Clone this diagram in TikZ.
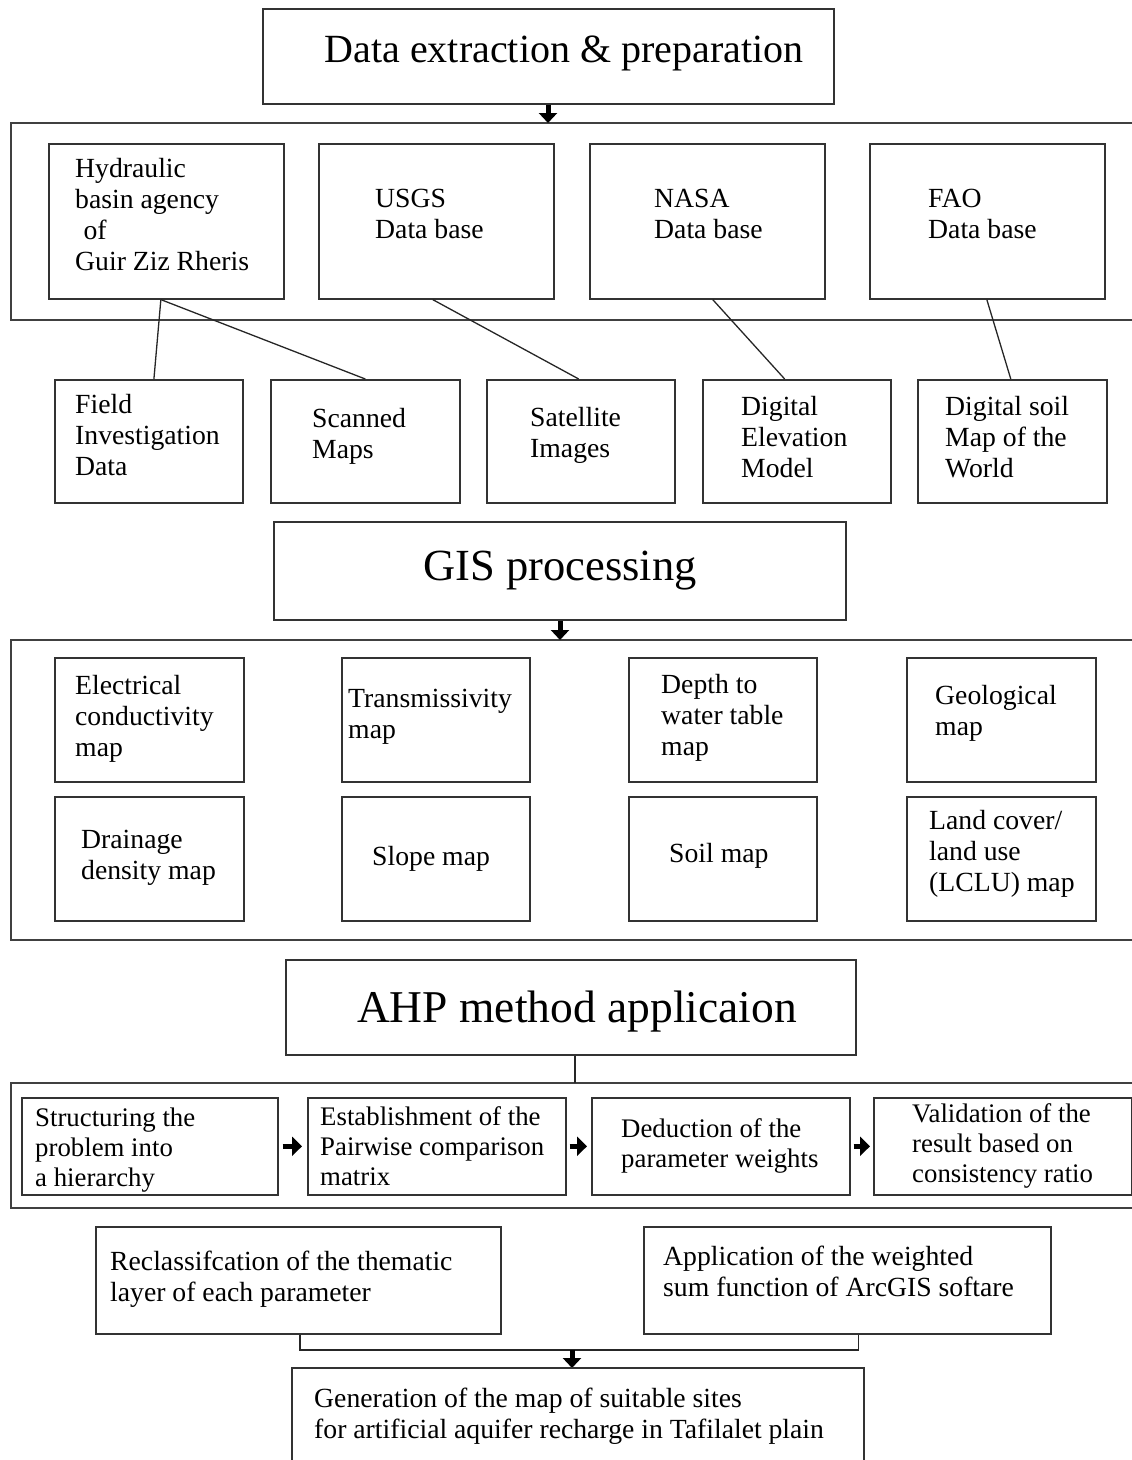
\documentclass[tikz,border=0pt]{standalone}
\usepackage{fontspec}
\setmainfont{Liberation Serif}
\usetikzlibrary{arrows.meta,calc}
\begin{document}
\begin{tikzpicture}[x=1pt,y=-1pt,
 box/.style={draw=black!80,line width=1.6pt,inner sep=0pt,anchor=north west},
 txt/.style={anchor=base west,align=left,inner sep=0pt,font=\fontsize{27.7}{31}\selectfont},
 ahptxt/.style={txt,font=\fontsize{26.8}{30}\selectfont},
 title/.style={anchor=base,inner sep=0pt},
 frame/.style={draw=black!75,line width=1.6pt},
 link/.style={draw=black!85,line width=1.3pt},
 bigarrow/.style={line width=5pt,-{Triangle[width=18pt,length=10pt]}},
]
\useasboundingbox (0,0) rectangle (1132,1460);

% ---------- Data extraction ----------
\node[box,minimum width=571pt,minimum height=95pt] (t1) at (262,8) {};
\node[title,font=\fontsize{40}{46}\selectfont] (t1text) at (564,62) {Data extraction \& preparation};
\coordinate (f1top) at (548,123);
\draw[frame] (1132,123) -- (11,123) -- (11,320) -- (1132,320);
\draw[bigarrow] (t1.south -| f1top) -- (f1top);

% sources
\node[box,minimum width=235pt,minimum height=155pt] (hyd) at (48,143) {};
\node[txt] (hydt) at (75,270) {Hydraulic\\basin agency\\\hspace{0.3em}of\\Guir Ziz Rheris};
\node[box,minimum width=235pt,minimum height=155pt] (usgs) at (318,143) {};
\node[txt] (usgst) at (375,238) {USGS\\Data base};
\node[box,minimum width=235pt,minimum height=155pt] (nasa) at (589,143) {};
\node[txt] (nasat) at (654,238) {NASA\\Data base};
\node[box,minimum width=235pt,minimum height=155pt] (fao) at (869,143) {};
\node[txt] (faot) at (928,238) {FAO\\Data base};

% data products
\node[box,minimum width=188pt,minimum height=123pt] (field) at (54,379) {};
\node[txt] (fieldt) at (75,475) {Field\\Investigation\\Data};
\node[box,minimum width=189pt,minimum height=123pt] (scan) at (270,379) {};
\node[txt] (scant) at (312,458) {Scanned\\Maps};
\node[box,minimum width=188pt,minimum height=123pt] (sat) at (486,379) {};
\node[txt] (satt) at (530,457) {Satellite\\Images};
\node[box,minimum width=188pt,minimum height=123pt] (dem) at (702,379) {};
\node[txt] (demt) at (741,477) {Digital\\Elevation\\Model};
\node[box,minimum width=189pt,minimum height=123pt] (soil) at (917,379) {};
\node[txt] (soilt) at (945,477) {Digital soil\\Map of the\\World};

\draw[link] ($(hyd.south west)!0.477!(hyd.south east)$) -- ($(field.north west)!0.527!(field.north east)$);
\draw[link] ($(hyd.south west)!0.477!(hyd.south east)$) -- (scan.north);
\draw[link] ($(usgs.south west)!0.485!(usgs.south east)$) -- ($(sat.north west)!0.489!(sat.north east)$);
\draw[link] ($(nasa.south west)!0.523!(nasa.south east)$) -- ($(dem.north west)!0.436!(dem.north east)$);
\draw[link] ($(fao.south west)!0.498!(fao.south east)$) -- ($(soil.north west)!0.492!(soil.north east)$);

% ---------- GIS processing ----------
\node[box,minimum width=572pt,minimum height=98pt] (t2) at (273,521) {};
\node[title,font=\fontsize{44.5}{50}\selectfont] (t2text) at (560,580) {GIS processing};
\coordinate (f2top) at (560,640);
\draw[frame] (1132,640) -- (11,640) -- (11,940) -- (1132,940);
\draw[bigarrow] (t2.south -| f2top) -- (f2top);

\node[box,minimum width=189pt,minimum height=124pt] (ec) at (54,657) {};
\node[txt] (ect) at (75,756) {Electrical\\conductivity\\map};
\node[box,minimum width=188pt,minimum height=124pt] (tr) at (341,657) {};
\node[txt] (trt) at (348,738) {Transmissivity\\map};
\node[box,minimum width=188pt,minimum height=124pt] (dw) at (628,657) {};
\node[txt] (dwt) at (661,755) {Depth to\\water table\\map};
\node[box,minimum width=189pt,minimum height=124pt] (geo) at (906,657) {};
\node[txt] (geot) at (935,735) {Geological\\map};

\node[box,minimum width=189pt,minimum height=124pt] (dd) at (54,796) {};
\node[txt] (ddt) at (81,879) {Drainage\\density map};
\node[box,minimum width=188pt,minimum height=124pt] (sl) at (341,796) {};
\node[txt] (slt) at (372,865) {Slope map};
\node[box,minimum width=188pt,minimum height=124pt] (sm) at (628,796) {};
\node[txt] (smt) at (669,862) {Soil map};
\node[box,minimum width=189pt,minimum height=124pt] (lc) at (906,796) {};
\node[txt] (lct) at (929,891) {Land cover/\\land use\\(LCLU) map};

% ---------- AHP ----------
\node[box,minimum width=570pt,minimum height=95pt] (t3) at (285,959) {};
\node[title,font=\fontsize{45.5}{52}\selectfont] (t3text) at (577,1022) {AHP method applicaion};
\coordinate (f3top) at (575,1083);
\draw[frame] (1132,1083) -- (11,1083) -- (11,1208) -- (1132,1208);
\draw[link] (t3.south -| f3top) -- (f3top);

\node[box,minimum width=256pt,minimum height=97pt] (s1) at (21,1097) {};
\node[ahptxt] (s1t) at (35,1186) {Structuring the\\problem into\\a hierarchy};
\node[box,minimum width=258pt,minimum height=97pt] (s2) at (307,1097) {};
\node[ahptxt] (s2t) at (320,1185) {Establishment of the\\Pairwise comparison\\matrix};
\node[box,minimum width=258pt,minimum height=97pt] (s3) at (591,1097) {};
\node[ahptxt] (s3t) at (621,1167) {Deduction of the\\parameter weights};
\node[box,minimum width=258pt,minimum height=97pt] (s4) at (873,1097) {};
\node[ahptxt] (s4t) at (912,1182) {Validation of the\\result based on\\consistency ratio};

\draw[bigarrow,-{Triangle[width=19pt,length=10pt]}] ([xshift=4pt]s1.east) -- ([xshift=-5pt]s2.west);
\draw[bigarrow,-{Triangle[width=19pt,length=10pt]}] ([xshift=3pt]s2.east) -- ([xshift=-4pt]s3.west);
\draw[bigarrow,-{Triangle[width=19pt,length=10pt]}] ([xshift=3pt]s3.east) -- ([xshift=-3pt]s4.west);

% ---------- final steps ----------
\node[box,minimum width=405pt,minimum height=107pt] (recl) at (95,1226) {};
\node[txt] (reclt) at (110,1301) {Reclassifcation of the thematic\\layer of each parameter};
\node[box,minimum width=407pt,minimum height=107pt] (appl) at (643,1226) {};
\node[txt] (applt) at (663,1296) {Application of the weighted\\sum function of ArcGIS softare};

\coordinate (rb) at ($(recl.south west)!0.504!(recl.south east)$);
\coordinate (ab) at ($(appl.south west)!0.528!(appl.south east)$);
\coordinate (jn) at (572,1350);
\coordinate (fintop) at (572,1368);
\draw[link] (rb) -- (rb |- jn) -- (ab |- jn) -- (ab);
\draw[bigarrow] (jn) -- (fintop);

\draw[frame,draw=black!80] (292,1460) -- (292,1368) -- (864,1368) -- (864,1460);
\node[txt] (fint) at (314,1438) {Generation of the map of suitable sites\\for artificial aquifer recharge in Tafilalet plain};
\end{tikzpicture}
\end{document}
